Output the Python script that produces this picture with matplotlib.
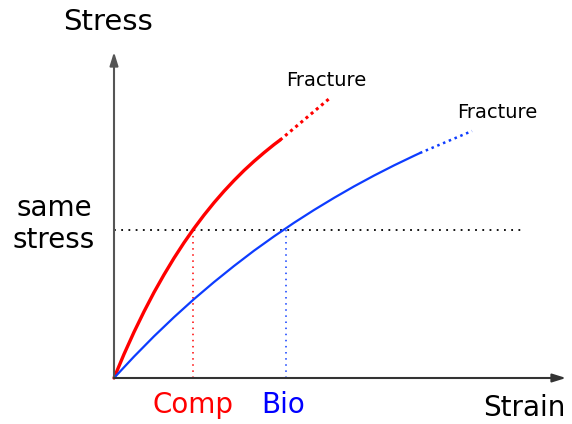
import matplotlib
matplotlib.use("Agg")
import matplotlib.pyplot as plt

# strain / stress in arbitrary units (origin at the axes corner)
comp_strain = [0, 10, 20, 30, 40, 50, 60, 70, 80, 90, 100, 110, 120, 130, 140, 150, 160, 166]
comp_stress = [0, 23.8, 45.9, 66.4, 85.6, 103.3, 119.9, 135.3, 149.6, 162.9, 175.3,
               186.8, 197.5, 207.5, 216.7, 225.3, 233.4, 237.9]
comp_frac_strain = [166, 216]
comp_frac_stress = [237.9, 280]

bio_strain = [0, 20, 40, 60, 80, 100, 120, 140, 160, 180, 200, 220, 240, 260, 280, 300, 306]
bio_stress = [0, 21.4, 41.7, 60.8, 78.9, 95.9, 112.0, 127.3, 141.6, 155.2, 168.0,
              180.1, 191.6, 202.4, 212.6, 222.2, 225.0]
bio_frac_strain = [306, 358]
bio_frac_stress = [225.0, 247]

same_stress = 148
comp_at_same = 79
bio_at_same = 172

RED = "#ff0000"
BLUE = "#0d3cff"


def main():
    fig = plt.figure(figsize=(5.72, 4.24), dpi=100)
    ax = fig.add_axes([0, 0, 1, 1])
    ax.set_xlim(-114, 458)
    ax.set_ylim(-46, 378)
    ax.axis("off")

    # axes with arrows
    ax.annotate("", xy=(0, 326), xytext=(0, 0),
                arrowprops=dict(arrowstyle="-|>,head_length=0.8,head_width=0.25",
                                color="#555555", lw=1.5, shrinkA=0, shrinkB=0))
    ax.annotate("", xy=(452, 0), xytext=(0, 0),
                arrowprops=dict(arrowstyle="-|>,head_length=0.8,head_width=0.25",
                                color="#333333", lw=1.5, shrinkA=0, shrinkB=0))

    # guide lines
    ax.plot([0, 411], [same_stress, same_stress], color="black", lw=1.3,
            linestyle=(0, (1, 3)))
    ax.plot([comp_at_same, comp_at_same], [0, same_stress], color=RED, lw=1.1,
            linestyle=(0, (1, 3)))
    ax.plot([bio_at_same, bio_at_same], [0, same_stress], color=BLUE, lw=1.1,
            linestyle=(0, (1, 3)))

    # curves
    ax.plot(comp_strain, comp_stress, color=RED, lw=2.4, solid_capstyle="round",
            solid_joinstyle="round")
    ax.plot(comp_frac_strain, comp_frac_stress, color=RED, lw=2.2,
            linestyle=(0, (1, 1.2)))
    ax.plot(bio_strain, bio_stress, color=BLUE, lw=1.6, solid_capstyle="round",
            solid_joinstyle="round")
    ax.plot(bio_frac_strain, bio_frac_stress, color=BLUE, lw=1.8,
            linestyle=(0, (1, 1.5)))

    # labels
    ax.text(-6, 356, "Stress", fontsize=21, ha="center", va="center")
    ax.text(410, -30, "Strain", fontsize=20, ha="center", va="center")
    ax.text(-60, 154, "same\nstress", fontsize=20, ha="center", va="center",
            linespacing=1.15)
    ax.text(comp_at_same, -27, "Comp", fontsize=20, ha="center", va="center",
            color="#ff0000")
    ax.text(bio_at_same - 3, -27, "Bio", fontsize=20, ha="center", va="center",
            color="#0000ff")
    ax.text(212, 297, "Fracture", fontsize=14, ha="center", va="center")
    ax.text(383, 266, "Fracture", fontsize=14, ha="center", va="center")

    fig.savefig("out.png", dpi=100)


if __name__ == "__main__":
    main()
